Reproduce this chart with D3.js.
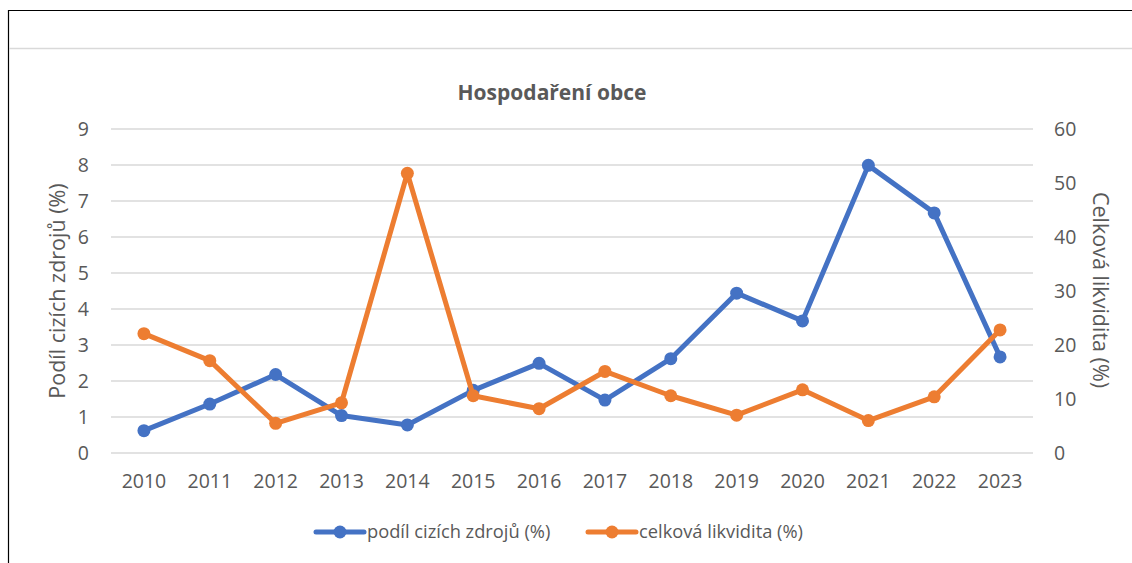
<!DOCTYPE html>
<html>
<head>
<meta charset="utf-8">
<script src="https://cdn.jsdelivr.net/npm/d3@7"></script>
<style>
    body { margin: 0; background: #fff; }
    svg text { font-family: "Open Sans", "Noto Sans", sans-serif; fill: #595959; }
</style>
</head>
<body>
<div id="chart"></div>
<script>
// Data
const years = ["2010", "2011", "2012", "2013", "2014", "2015", "2016", "2017", "2018", "2019", "2020", "2021", "2022", "2023"];
const podilCizichZdroju = [0.62, 1.36, 2.18, 1.04, 0.78, 1.74, 2.49, 1.47, 2.62, 4.44, 3.67, 7.99, 6.67, 2.67];
const celkovaLikvidita = [22.1, 17.1, 5.5, 9.3, 51.8, 10.6, 8.2, 15.1, 10.6, 7.0, 11.7, 6.0, 10.4, 22.8];
const leftTicks = [0, 1, 2, 3, 4, 5, 6, 7, 8, 9];
const rightTicks = [0, 10, 20, 30, 40, 50, 60];

const seriesNames = ["podíl cizích zdrojů (%)", "celková likvidita (%)"];
const colors = ["#4472C4", "#ED7D31"];

const W = 1132, H = 563;
const plot = { left: 111, right: 1033, top: 129, bottom: 453 };

const svg = d3.select("#chart").append("svg")
    .attr("width", W)
    .attr("height", H);

// frame: black border on left and top, light separator line
svg.append("line").attr("x1", 8.5).attr("x2", 8.5).attr("y1", 10).attr("y2", H).attr("stroke", "#000").attr("stroke-width", 1.2);
svg.append("line").attr("x1", 8).attr("x2", W).attr("y1", 10.5).attr("y2", 10.5).attr("stroke", "#000").attr("stroke-width", 1.2);
svg.append("line").attr("x1", 9).attr("x2", W).attr("y1", 48.5).attr("y2", 48.5).attr("stroke", "#d9d9d9").attr("stroke-width", 1.5);

// scales
const x = d3.scaleBand().domain(years).range([plot.left, plot.right]).padding(0);
const yLeft = d3.scaleLinear().domain([0, 9]).range([plot.bottom, plot.top]);
const yRight = d3.scaleLinear().domain([0, 60]).range([plot.bottom, plot.top]);
const cx = d => x(d) + x.bandwidth() / 2;

// gridlines
svg.append("g")
    .selectAll("line")
    .data(leftTicks)
    .join("line")
    .attr("x1", plot.left)
    .attr("x2", plot.right)
    .attr("y1", d => yLeft(d))
    .attr("y2", d => yLeft(d))
    .attr("stroke", "#d9d9d9")
    .attr("stroke-width", 1.3);

// axes (no domain/ticks, only labels)
const leftAxis = svg.append("g")
    .attr("transform", `translate(${plot.left},0)`)
    .call(d3.axisLeft(yLeft).tickValues(leftTicks).tickSize(0).tickPadding(22));
const rightAxis = svg.append("g")
    .attr("transform", `translate(${plot.right},0)`)
    .call(d3.axisRight(yRight).tickValues(rightTicks).tickSize(0).tickPadding(21));
const bottomAxis = svg.append("g")
    .attr("transform", `translate(0,${plot.bottom})`)
    .call(d3.axisBottom(x).tickSize(0).tickPadding(21));

[leftAxis, rightAxis, bottomAxis].forEach(g => {
    g.select(".domain").remove();
    g.selectAll("text")
        .style("font-size", "19.5px")
        .style("font-family", "'Open Sans', sans-serif")
        .attr("fill", "#595959");
});

// title
svg.append("text")
    .attr("x", 552)
    .attr("y", 100)
    .attr("text-anchor", "middle")
    .style("font-size", "21px")
    .style("font-weight", "bold")
    .text("Hospodaření obce");

// axis titles
svg.append("text")
    .attr("transform", `translate(65,${(plot.top + plot.bottom) / 2}) rotate(-90)`)
    .attr("text-anchor", "middle")
    .style("font-size", "21.5px")
    .text("Podíl cizích zdrojů (%)");

svg.append("text")
    .attr("transform", `translate(1093,${(plot.top + plot.bottom) / 2 - 1}) rotate(90)`)
    .attr("text-anchor", "middle")
    .style("font-size", "21.5px")
    .text("Celková likvidita (%)");

// series
const series = [
    { name: seriesNames[0], values: podilCizichZdroju, y: yLeft, color: colors[0] },
    { name: seriesNames[1], values: celkovaLikvidita, y: yRight, color: colors[1] }
];

series.forEach(s => {
    const line = d3.line()
        .x((d, i) => cx(years[i]))
        .y(d => s.y(d));

    svg.append("path")
        .datum(s.values)
        .attr("d", line)
        .attr("fill", "none")
        .attr("stroke", s.color)
        .attr("stroke-width", 5)
        .attr("stroke-linejoin", "round")
        .attr("stroke-linecap", "round");

    svg.append("g")
        .selectAll("circle")
        .data(s.values)
        .join("circle")
        .attr("cx", (d, i) => cx(years[i]))
        .attr("cy", d => s.y(d))
        .attr("r", 6.5)
        .attr("fill", s.color);
});

// legend
const legendItems = [
    { name: seriesNames[0], color: colors[0], x: 316 },
    { name: seriesNames[1], color: colors[1], x: 588 }
];
const legendY = 532;

legendItems.forEach(item => {
    const g = svg.append("g").attr("transform", `translate(${item.x},${legendY})`);
    g.append("line")
        .attr("x1", 0).attr("x2", 48)
        .attr("stroke", item.color)
        .attr("stroke-width", 5)
        .attr("stroke-linecap", "round");
    g.append("circle")
        .attr("cx", 24)
        .attr("r", 6.5)
        .attr("fill", item.color);
    g.append("text")
        .attr("x", 51)
        .attr("dy", "0.35em")
        .style("font-size", "18.3px")
        .text(item.name);
});
</script>
</body>
</html>
